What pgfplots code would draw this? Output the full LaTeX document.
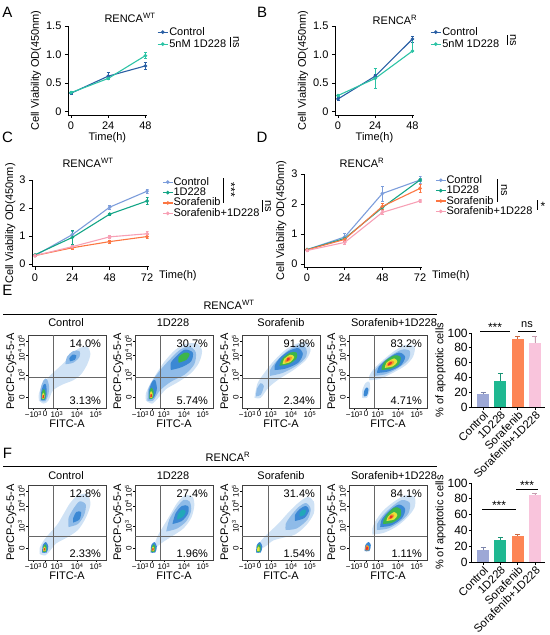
\documentclass[border=0pt]{standalone}
\usepackage{pgfplots}
\pgfplotsset{compat=1.18}
\usepackage{fontspec}
\setmainfont{Liberation Sans}
\definecolor{cA}{HTML}{2A5FA4}
\definecolor{dA}{HTML}{2CC3A5}
\definecolor{cC}{HTML}{7C9DDB}
\definecolor{dC}{HTML}{13A586}
\definecolor{sC}{HTML}{FC7642}
\definecolor{pC}{HTML}{F7A0B5}
\definecolor{b1}{HTML}{9DA8D6}
\definecolor{b2}{HTML}{1FB891}
\definecolor{b3}{HTML}{FD8555}
\definecolor{b4}{HTML}{F9C4DC}
\definecolor{f0}{HTML}{CFE2F5}
\definecolor{f1}{HTML}{8FBBE8}
\definecolor{f2}{HTML}{3B88D4}
\definecolor{f3}{HTML}{22A8B8}
\definecolor{f4}{HTML}{3DB54A}
\definecolor{f5}{HTML}{E6E23A}
\definecolor{f6}{HTML}{F39A2A}
\definecolor{f7}{HTML}{E5322A}
\newcommand{\mfont}{\fontsize{11bp}{12.5bp}\selectfont}
\newcommand{\bfontt}{\fontsize{12bp}{13bp}\selectfont}
\newcommand{\sfont}{\fontsize{8bp}{9bp}\selectfont}
\pgfplotsset{
  every axis/.append style={font=\mfont, /pgf/number format/assume math mode=true},
  lineax/.style={scale only axis, axis lines=left, axis line style={-, line width=0.8bp},
    tick align=outside, major tick length=3bp, tick style={line width=0.8bp, black},
    ticklabel style={font=\mfont}, label style={font=\mfont},
    legend cell align=left,
    legend image code/.code={\draw[mark repeat=2,mark phase=2,##1] plot coordinates {(0bp,0bp) (5bp,0bp) (10bp,0bp)};},
  },
  lp/.style={line width=1.1bp, mark=*, mark size=1.2bp},
  errs/.style={error bars/.cd, y dir=both, y explicit, error bar style={line width=0.7bp}, error mark options={rotate=90, mark size=1.5bp, line width=0.7bp}},
  barax/.style={scale only axis, axis lines=left, axis line style={-, line width=0.8bp},
    tick align=outside, major tick length=2.5bp, tick style={line width=0.8bp, black},
    width=72.7bp, xmin=-0.65, xmax=3.55, ymin=0, ymax=100, ytick={0,20,40,60,80,100},
    yticklabel style={font=\bfontt, inner sep=1.5bp}, label style={font=\mfont},
    xtick={0,1,2,3}, xticklabels={Control,1D228,Sorafenib,Sorafenib+1D228},
    xticklabel style={rotate=45, anchor=north east, inner sep=0.5bp, font=\fontsize{11.3bp}{12bp}\selectfont},
    ylabel={\% of apoptotic cells}, ylabel style={yshift=-3bp}},
  br/.style={ybar, bar width=12bp, bar shift=0pt, draw=none},
  berr/.style={error bars/.cd, y dir=plus, y explicit, error bar style={line width=0.8bp}, error mark options={rotate=90, mark size=2.5bp, line width=0.8bp}},
  flow/.style={scale only axis, width=78bp, xmin=0, xmax=100, ymin=0, ymax=100,
    axis line style={line width=0.6bp, black!75},
    xtick={7,22,37,63,87},
    xticklabels={−10\textsuperscript{3},0,10\textsuperscript{3},10\textsuperscript{4},10\textsuperscript{5}},
    ytick={15,45,72,92},
    yticklabels={0,10\textsuperscript{3},10\textsuperscript{4},10\textsuperscript{5}},
    yticklabel style={rotate=90, anchor=south, inner sep=1bp},
    xticklabel style={inner sep=1bp},
    tick align=outside, major tick length=2bp, tick pos=left, tick style={black, line width=0.6bp},
    ticklabel style={font=\sfont},
    xlabel={FITC-A}, ylabel={PerCP-Cy5-5-A},
    label style={font=\mfont, inner sep=0.5bp},
    clip=true},
  fl/.style={draw=none, fill=#1, smooth, tension=0.5, forget plot},
  gate/.style={gray!80!black, line width=0.6bp, forget plot},
}
\begin{document}
\begin{tikzpicture}[font=\mfont]
\useasboundingbox (0,0) rectangle (550bp,-635bp);

% panel letters
\node[font=\fontsize{15bp}{16bp}\selectfont] at (7.5bp,-12.5bp) {A};
\node[font=\fontsize{15bp}{16bp}\selectfont] at (262bp,-12.5bp) {B};
\node[font=\fontsize{15bp}{16bp}\selectfont] at (7.5bp,-137bp) {C};
\node[font=\fontsize{15bp}{16bp}\selectfont] at (262bp,-137bp) {D};
\node[font=\fontsize{15bp}{16bp}\selectfont] at (7.5bp,-290bp) {E};
\node[font=\fontsize{15bp}{16bp}\selectfont] at (7.5bp,-453bp) {F};

% ---------------- A ----------------
\begin{axis}[lineax, at={(67.9bp,-114.9bp)}, anchor=south west, width=79.05bp, height=88.9bp,
  xmin=-2, xmax=49, ymin=-0.06, ymax=1.5, xtick={0,24,48}, ytick={0,0.5,1,1.5}, yticklabels={0,0.5,1.0,1.5},
  xlabel={Time(h)}, xlabel style={yshift=4bp}, ylabel={Cell Viability OD(450nm)}, ylabel style={yshift=-2bp},
  legend style={at={(1.127,1.0)}, anchor=north west, draw=none, fill=none, font=\mfont, inner sep=0pt,
    nodes={inner sep=1bp, text height=8bp, text depth=2bp}}]
\addplot[cA, lp, errs] coordinates {(0,0.32) +- (0,0.02) (24,0.62) +- (0,0.06) (48,0.80) +- (0,0.06)};
\addlegendentry{Control}
\addplot[dA, lp, errs] coordinates {(0,0.33) +- (0,0.02) (24,0.58) +- (0,0.02) (48,0.98) +- (0,0.05)};
\addlegendentry{5nM 1D228}
\end{axis}
\node at (130bp,-18bp) {RENCA\textsuperscript{WT}};
\draw[line width=0.8bp] (230bp,-37bp) -- (230bp,-47bp);
\node[rotate=-90] at (236bp,-42bp) {ns};

% ---------------- B ----------------
\begin{axis}[lineax, at={(334.9bp,-114.9bp)}, anchor=south west, width=79.05bp, height=88.9bp,
  xmin=-2, xmax=49, ymin=-0.06, ymax=1.5, xtick={0,24,48}, ytick={0,0.5,1,1.5}, yticklabels={0,0.5,1.0,1.5},
  xlabel={Time(h)}, xlabel style={yshift=4bp}, ylabel={Cell Viability OD(450nm)}, ylabel style={yshift=-2bp},
  legend style={at={(1.203,1.0)}, anchor=north west, draw=none, fill=none, font=\mfont, inner sep=0pt,
    nodes={inner sep=1bp, text height=8bp, text depth=2bp}}]
\addplot[cA, lp, errs] coordinates {(0,0.22) +- (0,0.03) (24,0.62) +- (0,0.03) (48,1.27) +- (0,0.05)};
\addlegendentry{Control}
\addplot[dA, lp, error bars/.cd, y dir=both, y explicit, error bar style={line width=0.7bp}, error mark options={rotate=90, mark size=1.5bp, line width=0.7bp}]
  coordinates {(0,0.28) +- (0,0.02) (24,0.58) +- (0,0.18) (48,1.06) += (0,0.21) -= (0,0.01)};
\addlegendentry{5nM 1D228}
\end{axis}
\node at (395bp,-20bp) {RENCA\textsuperscript{R}};
\draw[line width=0.8bp] (507bp,-35bp) -- (507bp,-45bp);
\node[rotate=-90] at (513bp,-40bp) {ns};

% ---------------- C ----------------
\begin{axis}[lineax, at={(31.9bp,-266.8bp)}, anchor=south west, width=116.7bp, height=86.8bp,
  xmin=-2, xmax=73, ymin=-0.1, ymax=3, xtick={0,24,48,72}, ytick={0,1,2,3},
  xlabel={Time(h)}, xlabel style={at={(axis description cs:1,0)}, anchor=west, xshift=7bp, yshift=-8.5bp},
  ylabel={Cell Viability OD(450nm)}, ylabel style={yshift=-3bp},
  legend style={at={(1.115,1.037)}, anchor=north west, draw=none, fill=none, font=\mfont, inner sep=0pt,
    nodes={inner sep=0.2bp, text height=8bp, text depth=2bp}}]
\addplot[cC, lp, errs] coordinates {(0,0.30) +- (0,0.03) (24,1.05) +- (0,0.1) (48,2.03) +- (0,0.07) (72,2.60) +- (0,0.07)};
\addlegendentry{Control}
\addplot[dC, lp, errs] coordinates {(0,0.33) +- (0,0.02) (24,0.95) +- (0,0.25) (48,1.78) +- (0,0.04) (72,2.25) +- (0,0.12)};
\addlegendentry{1D228}
\addplot[sC, lp, errs] coordinates {(0,0.30) +- (0,0.02) (24,0.58) +- (0,0.05) (48,0.80) +- (0,0.06) (72,0.98) +- (0,0.07)};
\addlegendentry{Sorafenib}
\addplot[pC, lp, errs] coordinates {(0,0.30) +- (0,0.02) (24,0.62) +- (0,0.04) (48,0.97) +- (0,0.05) (72,1.08) +- (0,0.08)};
\addlegendentry{Sorafenib+1D228}
\end{axis}
\node at (88bp,-163bp) {RENCA\textsuperscript{WT}};
\draw[line width=0.8bp] (223bp,-178bp) -- (223bp,-203bp);
\node[rotate=-90, font=\fontsize{12bp}{13bp}\selectfont] at (231bp,-190bp) {***};
\draw[line width=0.8bp] (262bp,-200bp) -- (262bp,-212bp);
\node[rotate=-90] at (268bp,-206bp) {ns};

% ---------------- D ----------------
\begin{axis}[lineax, at={(303.9bp,-267bp)}, anchor=south west, width=117.7bp, height=93bp,
  xmin=-2, xmax=73, ymin=-0.1, ymax=3, xtick={0,24,48,72}, ytick={0,1,2,3},
  xlabel={Time(h)}, xlabel style={at={(axis description cs:1,0)}, anchor=west, xshift=7bp, yshift=-8.5bp},
  ylabel={Cell Viability OD(450nm)}, ylabel style={yshift=-2bp},
  legend style={at={(1.114,0.991)}, anchor=north west, draw=none, fill=none, font=\mfont, inner sep=0pt,
    nodes={inner sep=0.2bp, text height=8bp, text depth=2bp}}]
\addplot[cC, lp, errs] coordinates {(0,0.48) +- (0,0.02) (24,0.90) +- (0,0.13) (48,2.35) +- (0,0.25) (72,2.80) +- (0,0.12)};
\addlegendentry{Control}
\addplot[dC, lp, errs] coordinates {(0,0.48) +- (0,0.02) (24,0.85) +- (0,0.05) (48,1.88) +- (0,0.15) (72,2.80) +- (0,0.05)};
\addlegendentry{1D228}
\addplot[sC, lp, errs] coordinates {(0,0.47) +- (0,0.02) (24,0.82) +- (0,0.05) (48,1.92) +- (0,0.1) (72,2.52) +- (0,0.13)};
\addlegendentry{Sorafenib}
\addplot[pC, lp, errs] coordinates {(0,0.45) +- (0,0.02) (24,0.72) +- (0,0.08) (48,1.72) +- (0,0.08) (72,2.10) +- (0,0.04)};
\addlegendentry{Sorafenib+1D228}
\end{axis}
\node at (362bp,-163bp) {RENCA\textsuperscript{R}};
\draw[line width=0.8bp] (497bp,-179bp) -- (497bp,-202bp);
\node[rotate=-90] at (504bp,-190bp) {ns};
\draw[line width=0.8bp] (537bp,-200bp) -- (537bp,-210bp);
\node[font=\fontsize{12bp}{13bp}\selectfont] at (543bp,-206bp) {*};

% ---------------- E headers ----------------
\node at (229bp,-305bp) {RENCA\textsuperscript{WT}};
\draw[line width=0.9bp] (3bp,-314bp) -- (437bp,-314bp);
\node at (66bp,-323bp) {Control};
\node at (173bp,-323bp) {1D228};
\node at (281bp,-323bp) {Sorafenib};
\node at (394bp,-323bp) {Sorafenib+1D228};

% E1 Control
\begin{axis}[flow, at={(28bp,-408bp)}, anchor=south west, height=73bp]
\addplot[fl=f0] coordinates {(14,10) (20,6) (26,10) (32,24) (44,32) (58,38) (68,46) (76,60) (80,74) (76,84) (66,82) (56,74) (46,62) (36,52) (26,42) (19,32) (14,20) (14,10)};
\addplot[fl=f1] coordinates {(16,10) (22,9) (26,18) (27,30) (24,40) (20,38) (16,26) (16,10)};
\addplot[fl=f1] coordinates {(48,60) (58,62) (66,70) (66,78) (58,78) (50,70) (48,60)};
\addplot[fl=f2] coordinates {(17,11) (22,11) (24,20) (23,32) (20,32) (17,22) (17,11)};
\addplot[fl=f2] coordinates {(54,64) (60,66) (62,72) (57,73) (53,68) (54,64)};
\addplot[fl=f4] coordinates {(17.5,12) (21.5,12) (22.5,20) (20.5,26) (18,22) (17.5,12)};
\addplot[fl=f5] coordinates {(18,13) (21,13) (21,19) (19.5,21) (18,17) (18,13)};
\addplot[fl=f7] coordinates {(18.5,13.5) (20.5,14) (20.3,17.5) (19,18) (18.5,13.5)};
\addplot[gate] coordinates {(32,0) (32,100)};
\addplot[gate] coordinates {(0,42) (100,42)};
\node[anchor=east] at (rel axis cs:0.98,0.88) {14.0\%};
\node[anchor=east] at (rel axis cs:0.98,0.10) {3.13\%};
\end{axis}

% E2 1D228
\begin{axis}[flow, at={(135bp,-408bp)}, anchor=south west, height=73bp]
\addplot[fl=f0] coordinates {(14,10) (22,6) (30,14) (40,26) (56,36) (72,48) (82,62) (86,78) (80,88) (66,88) (52,80) (38,64) (28,48) (20,34) (14,20) (14,10)};
\addplot[fl=f1] coordinates {(16,10) (23,10) (32,24) (46,36) (64,46) (76,60) (78,76) (70,84) (58,80) (46,68) (34,54) (24,40) (17,26) (16,10)};
\addplot[fl=f2] coordinates {(18,12) (24,14) (28,26) (26,38) (22,36) (18,24) (18,12)};
\addplot[fl=f2] coordinates {(46,52) (60,56) (72,64) (74,76) (64,80) (54,72) (46,62) (46,52)};
\addplot[fl=f4] coordinates {(56,62) (66,66) (70,74) (64,76) (56,70) (56,62)};
\addplot[fl=f4] coordinates {(18.5,13) (22.5,13) (24,22) (21.5,28) (19,24) (18.5,13)};
\addplot[fl=f5] coordinates {(19,14) (22,14) (22.5,20) (20.5,23) (19,19) (19,14)};
\addplot[fl=f7] coordinates {(19.5,14.5) (21.5,15) (21.5,18.5) (20,19.5) (19.5,14.5)};
\addplot[gate] coordinates {(32,0) (32,100)};
\addplot[gate] coordinates {(0,42) (100,42)};
\node[anchor=east] at (rel axis cs:0.98,0.88) {30.7\%};
\node[anchor=east] at (rel axis cs:0.98,0.10) {5.74\%};
\end{axis}

% E3 Sorafenib
\begin{axis}[flow, at={(242bp,-408bp)}, anchor=south west, height=73bp]
\addplot[fl=f0] coordinates {(16,14) (24,14) (34,28) (48,40) (66,52) (82,66) (88,80) (82,90) (70,88) (56,80) (42,66) (30,50) (20,34) (16,14)};
\addplot[fl=f1] coordinates {(36,44) (52,48) (70,58) (82,70) (82,82) (72,86) (58,78) (44,64) (36,52) (36,44)};
\addplot[fl=f1] coordinates {(18,16) (24,18) (28,30) (24,34) (19,26) (18,16)};
\addplot[fl=f2] coordinates {(42,52) (56,54) (72,62) (78,74) (72,82) (60,78) (48,68) (42,58) (42,52)};
\addplot[fl=f4] coordinates {(48,58) (60,60) (70,68) (70,76) (62,76) (52,68) (48,58)};
\addplot[fl=f5] coordinates {(52,60) (62,63) (67,70) (62,73) (54,67) (52,60)};
\addplot[fl=f6] coordinates {(55,62) (62,65) (64,70) (59,70) (55,65) (55,62)};
\addplot[fl=f7] coordinates {(57,64) (61,66) (61,69) (58,68) (57,64)};
\addplot[gate] coordinates {(34,0) (34,100)};
\addplot[gate] coordinates {(0,41) (100,41)};
\node[anchor=east] at (rel axis cs:0.98,0.88) {91.8\%};
\node[anchor=east] at (rel axis cs:0.98,0.10) {2.34\%};
\end{axis}

% E4 Sorafenib+1D228
\begin{axis}[flow, at={(349bp,-408bp)}, anchor=south west, height=73bp]
\addplot[fl=f0] coordinates {(26,38) (40,40) (56,48) (72,58) (82,70) (84,84) (72,86) (58,78) (44,66) (32,54) (26,44) (26,38)};
\addplot[fl=f0] coordinates {(17,14) (23,14) (27,26) (26,36) (21,34) (17,24) (17,14)};
\addplot[fl=f1] coordinates {(32,44) (46,46) (62,54) (76,66) (78,78) (68,80) (54,72) (40,60) (32,50) (32,44)};
\addplot[fl=f2] coordinates {(36,48) (50,50) (66,58) (72,70) (64,76) (50,68) (38,56) (36,48)};
\addplot[fl=f2] coordinates {(19,16) (23,17) (25,26) (22,28) (19,22) (19,16)};
\addplot[fl=f4] coordinates {(42,52) (54,54) (64,60) (66,70) (58,72) (46,64) (42,56) (42,52)};
\addplot[fl=f5] coordinates {(46,55) (56,57) (62,63) (58,68) (48,62) (46,55)};
\addplot[fl=f6] coordinates {(48,57) (55,59) (58,63) (54,65) (49,61) (48,57)};
\addplot[fl=f7] coordinates {(50,58) (54,60) (55,63) (51,62) (50,58)};
\addplot[gate] coordinates {(33,0) (33,100)};
\addplot[gate] coordinates {(0,42) (100,42)};
\node[anchor=east] at (rel axis cs:0.98,0.88) {83.2\%};
\node[anchor=east] at (rel axis cs:0.98,0.10) {4.71\%};
\end{axis}

% E bars
\begin{axis}[barax, at={(471.8bp,-407bp)}, anchor=south west, height=74bp]
\addplot[br, fill=b1, berr, error bar style={color=b1!80!black}] coordinates {(0,17) +- (0,2.5)};
\addplot[br, fill=b2, berr, error bar style={color=b2!80!black}] coordinates {(1,35) +- (0,11)};
\addplot[br, fill=b3, berr, error bar style={color=b3!80!black}] coordinates {(2,92) +- (0,3)};
\addplot[br, fill=b4, berr, error bar style={color=b4!80!black}] coordinates {(3,87) +- (0,9)};
\end{axis}
\draw[line width=0.8bp] (480bp,-331bp) -- (510bp,-331bp);
\node[font=\fontsize{12bp}{13bp}\selectfont] at (495bp,-327bp) {***};
\draw[line width=0.8bp] (518bp,-331bp) -- (536bp,-331bp);
\node at (527bp,-325bp) {ns};

% ---------------- F headers ----------------
\node at (228bp,-457bp) {RENCA\textsuperscript{R}};
\draw[line width=0.9bp] (3bp,-466bp) -- (437bp,-466bp);
\node at (66bp,-476bp) {Control};
\node at (173bp,-476bp) {1D228};
\node at (281bp,-476bp) {Sorafenib};
\node at (394bp,-476bp) {Sorafenib+1D228};

% F1 Control
\begin{axis}[flow, at={(28bp,-560bp)}, anchor=south west, height=75bp]
\addplot[fl=f0] coordinates {(15,8) (22,6) (28,12) (36,22) (50,30) (64,40) (74,56) (80,74) (76,88) (64,86) (54,76) (46,62) (38,48) (28,36) (20,26) (15,16) (15,8)};
\addplot[fl=f1] coordinates {(52,44) (64,48) (72,60) (74,74) (66,78) (58,68) (52,56) (52,44)};
\addplot[fl=f2] coordinates {(58,50) (66,54) (68,64) (62,64) (58,56) (58,50)};
\addplot[fl=f2] coordinates {(18,10) (24,10) (26,18) (23,24) (19,20) (18,10)};
\addplot[fl=f4] coordinates {(19,11) (23,11) (24,17) (22,21) (19.5,17) (19,11)};
\addplot[fl=f5] coordinates {(19.5,12) (22.5,12) (22.5,16.5) (21,18) (19.5,15) (19.5,12)};
\addplot[fl=f7] coordinates {(20,12.5) (22,13) (22,15.5) (20.5,16) (20,12.5)};
\addplot[gate] coordinates {(32,0) (32,100)};
\addplot[gate] coordinates {(0,32) (100,32)};
\node[anchor=east] at (rel axis cs:0.98,0.88) {12.8\%};
\node[anchor=east] at (rel axis cs:0.98,0.08) {2.33\%};
\end{axis}

% F2 1D228
\begin{axis}[flow, at={(135bp,-560bp)}, anchor=south west, height=75bp]
\addplot[fl=f0] coordinates {(26,16) (36,24) (48,32) (62,42) (72,56) (76,72) (74,84) (64,86) (54,76) (46,62) (38,48) (30,34) (26,24) (26,16)};
\addplot[fl=f1] coordinates {(40,38) (54,42) (66,52) (72,66) (70,78) (62,80) (52,68) (44,54) (40,38)};
\addplot[fl=f2] coordinates {(48,48) (60,52) (68,62) (68,72) (60,72) (52,62) (48,48)};
\addplot[fl=f3] coordinates {(54,54) (62,58) (65,65) (60,67) (55,61) (54,54)};
\addplot[fl=f2] coordinates {(20,10) (26,10) (28,18) (25,24) (21,20) (20,10)};
\addplot[fl=f4] coordinates {(21,11) (25,11) (26,17) (24,21) (21.5,17) (21,11)};
\addplot[fl=f5] coordinates {(21.5,12) (24.5,12) (24.5,16.5) (23,18) (21.5,15) (21.5,12)};
\addplot[fl=f7] coordinates {(22,12.5) (24,13) (24,15.5) (22.5,16) (22,12.5)};
\addplot[gate] coordinates {(32,0) (32,100)};
\addplot[gate] coordinates {(0,32) (100,32)};
\node[anchor=east] at (rel axis cs:0.98,0.88) {27.4\%};
\node[anchor=east] at (rel axis cs:0.98,0.08) {1.96\%};
\end{axis}

% F3 Sorafenib
\begin{axis}[flow, at={(242bp,-560bp)}, anchor=south west, height=75bp]
\addplot[fl=f0] coordinates {(22,14) (30,18) (40,26) (54,30) (68,34) (82,46) (92,62) (92,78) (84,84) (72,76) (60,64) (48,50) (38,40) (28,30) (22,22) (22,14)};
\addplot[fl=f1] coordinates {(56,40) (70,42) (84,54) (88,68) (82,76) (72,70) (62,58) (56,48) (56,40)};
\addplot[fl=f2] coordinates {(68,52) (80,56) (86,66) (82,72) (74,68) (68,60) (68,52)};
\addplot[fl=f3] coordinates {(74,58) (80,60) (82,66) (78,67) (74,63) (74,58)};
\addplot[fl=f2] coordinates {(18,10) (24,10) (26,18) (23,24) (19,20) (18,10)};
\addplot[fl=f4] coordinates {(19,11) (23,11) (24,17) (22,21) (19.5,17) (19,11)};
\addplot[fl=f5] coordinates {(19.5,12) (22.5,12) (22.5,16.5) (21,18) (19.5,15) (19.5,12)};
\addplot[gate] coordinates {(34,0) (34,100)};
\addplot[gate] coordinates {(0,32) (100,32)};
\node[anchor=east] at (rel axis cs:0.98,0.88) {31.4\%};
\node[anchor=east] at (rel axis cs:0.98,0.08) {1.54\%};
\end{axis}

% F4 Sorafenib+1D228
\begin{axis}[flow, at={(349bp,-560bp)}, anchor=south west, height=75bp]
\addplot[fl=f0] coordinates {(30,34) (44,36) (60,44) (74,56) (84,70) (84,84) (72,86) (58,78) (44,66) (34,52) (30,42) (30,34)};
\addplot[fl=f1] coordinates {(36,40) (50,42) (64,50) (76,62) (78,76) (68,80) (56,72) (44,60) (36,48) (36,40)};
\addplot[fl=f2] coordinates {(40,44) (54,46) (68,56) (72,68) (64,74) (52,66) (42,54) (40,44)};
\addplot[fl=f4] coordinates {(44,48) (56,50) (66,58) (66,68) (58,70) (48,60) (44,52) (44,48)};
\addplot[fl=f5] coordinates {(48,52) (58,54) (62,60) (58,64) (50,58) (48,52)};
\addplot[fl=f6] coordinates {(50,54) (56,56) (58,60) (54,61) (51,57) (50,54)};
\addplot[fl=f7] coordinates {(52,55) (55,56) (56,59) (53,59) (52,55)};
\addplot[fl=f2] coordinates {(20,12) (26,12) (28,20) (25,24) (21,20) (20,12)};
\addplot[fl=f6] coordinates {(21,13) (25,13) (25.5,18) (23,20) (21,17) (21,13)};
\addplot[fl=f7] coordinates {(21.5,13.5) (24.5,14) (24.5,17) (22.5,18) (21.5,13.5)};
\addplot[gate] coordinates {(33,0) (33,100)};
\addplot[gate] coordinates {(0,32) (100,32)};
\node[anchor=east] at (rel axis cs:0.98,0.88) {84.1\%};
\node[anchor=east] at (rel axis cs:0.98,0.08) {1.11\%};
\end{axis}

% F bars
\begin{axis}[barax, at={(471.8bp,-562bp)}, anchor=south west, height=79bp]
\addplot[br, fill=b1, berr, error bar style={color=b1!80!black}] coordinates {(0,15) +- (0,4)};
\addplot[br, fill=b2, berr, error bar style={color=b2!80!black}] coordinates {(1,28) +- (0,3.5)};
\addplot[br, fill=b3, berr, error bar style={color=b3!80!black}] coordinates {(2,33.5) +- (0,2)};
\addplot[br, fill=b4, berr, error bar style={color=b4!80!black}] coordinates {(3,85) +- (0,2)};
\end{axis}
\draw[line width=0.8bp] (482bp,-509bp) -- (516bp,-509bp);
\node[font=\fontsize{12bp}{13bp}\selectfont] at (499bp,-505bp) {***};
\draw[line width=0.8bp] (516bp,-489bp) -- (538bp,-489bp);
\node[font=\fontsize{12bp}{13bp}\selectfont] at (527bp,-485bp) {***};
\end{tikzpicture}
\end{document}
